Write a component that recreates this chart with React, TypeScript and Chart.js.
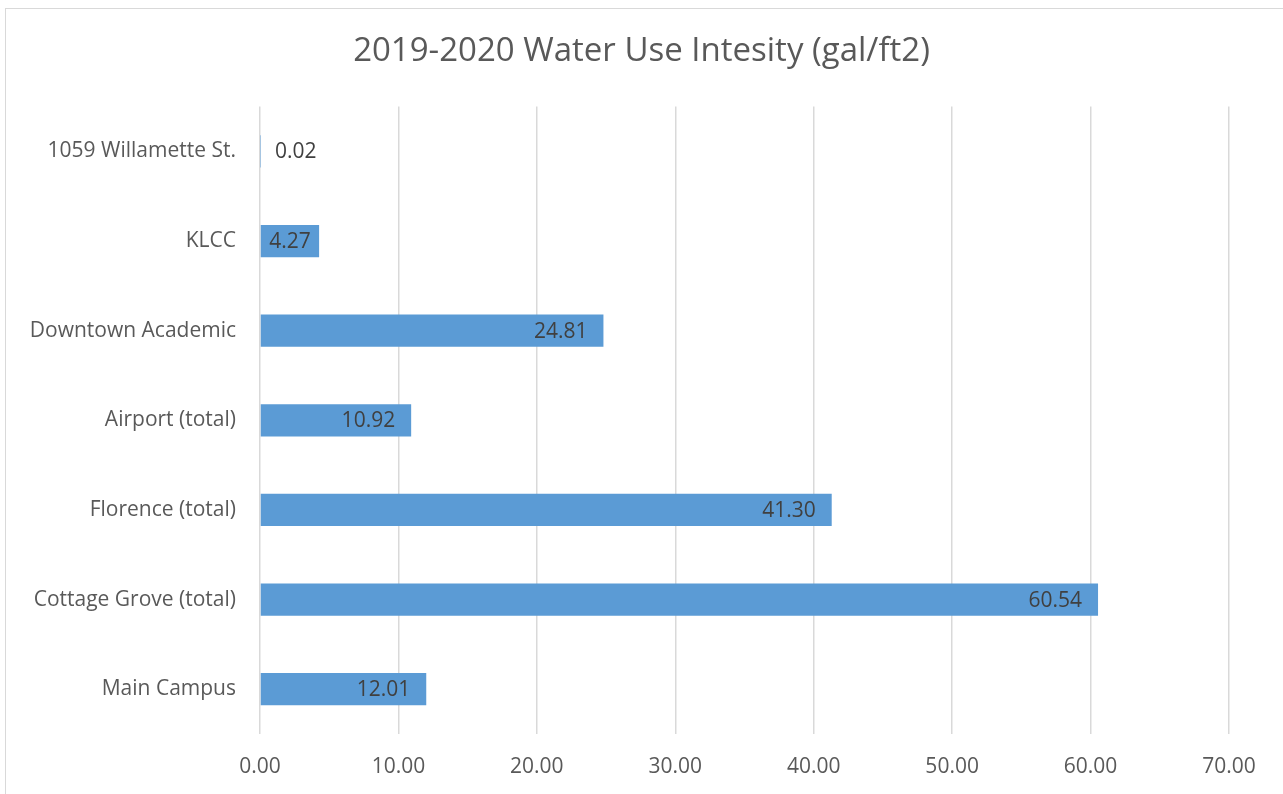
import React, { useEffect, useRef } from "react";
import { Chart, registerables } from "chart.js";

Chart.register(...registerables);

const categories = [
  "1059 Willamette St.",
  "KLCC",
  "Downtown Academic",
  "Airport (total)",
  "Florence (total)",
  "Cottage Grove (total)",
  "Main Campus",
];
const values = [0.02, 4.27, 24.81, 10.92, 41.3, 60.54, 12.01];
const xMin = 0;
const xMax = 70;
const xStep = 10;
const titleText = "2019-2020 Water Use Intesity (gal/ft2)";

const FONT = "'Open Sans', 'Noto Sans', sans-serif";

const labelPlugin = {
  id: "barLabels",
  afterDatasetsDraw(chart: any) {
    const ctx = chart.ctx;
    const meta = chart.getDatasetMeta(0);
    const left = chart.chartArea.left;
    ctx.save();
    ctx.font = `21px ${FONT}`;
    ctx.fillStyle = "#404040";
    ctx.textBaseline = "middle";
    ctx.textAlign = "left";
    meta.data.forEach((el: any, i: number) => {
      const txt = values[i].toFixed(2);
      const w = ctx.measureText(txt).width;
      const end = el.x;
      const base = el.base;
      const bw = end - base;
      let x: number;
      if (bw >= w + 32) {
        x = end - 16 - w;
      } else if (bw >= w) {
        x = base + (bw - w) / 2;
      } else {
        x = left + 15;
      }
      ctx.fillText(txt, x, el.y + 1);
    });
    ctx.restore();
  },
};

export default function App() {
  const ref = useRef<HTMLCanvasElement | null>(null);
  useEffect(() => {
    if (!ref.current) return;
    const chart = new Chart(ref.current, {
      type: "bar",
      data: {
        labels: categories,
        datasets: [
          {
            data: values,
            backgroundColor: "#5B9BD5",
            borderWidth: 0,
            categoryPercentage: 1,
            barPercentage: 0.36,
            yAxisID: "y",
          },
        ],
      },
      options: {
        indexAxis: "y",
        animation: false,
        responsive: false,
        maintainAspectRatio: false,
        layout: { padding: { left: 0, right: 0, top: 0, bottom: 0 } },
        plugins: {
          legend: { display: false },
          tooltip: { enabled: false },
          title: {
            display: true,
            text: titleText,
            color: "#595959",
            font: { family: FONT, size: 33, weight: "normal" },
            padding: { top: 32, bottom: 35 },
          },
        },
        scales: {
          x: {
            min: xMin,
            max: xMax,
            ticks: {
              stepSize: xStep,
              color: "#595959",
              font: { family: FONT, size: 21 },
              padding: 20,
              callback: (v: any) => Number(v).toFixed(2),
            },
            grid: { color: "#d9d9d9", lineWidth: 1.5, drawTicks: false },
            border: { display: false },
            afterFit: (s: any) => {
              s.height = 60;
            },
          },
          y: {
            position: "left",
            ticks: {
              color: "#595959",
              font: { family: FONT, size: 21 },
              padding: 24,
            },
            grid: { display: false, drawTicks: false },
            border: { display: false },
            afterFit: (s: any) => {
              s.width = 260;
            },
          },
          yRight: {
            type: "category",
            axis: "y",
            position: "right",
            labels: categories,
            ticks: { display: false },
            grid: { display: false, drawTicks: false },
            border: { display: false },
            afterFit: (s: any) => {
              s.width = 54;
            },
          },
        },
      },
      plugins: [labelPlugin],
    });
    return () => chart.destroy();
  }, []);

  return (
    <div
      style={{
        position: "fixed",
        left: 0,
        top: 0,
        width: 1283,
        height: 794,
        background: "#fff",
        overflow: "hidden",
      }}
    >
      <div
        style={{
          position: "absolute",
          left: 5,
          top: 8,
          width: 1290,
          height: 800,
          border: "1px solid #d9d9d9",
          boxSizing: "border-box",
        }}
      />
      <canvas
        ref={ref}
        width={1283}
        height={794}
        style={{ position: "absolute", left: 0, top: 0, width: 1283, height: 794 }}
      />
    </div>
  );
}
